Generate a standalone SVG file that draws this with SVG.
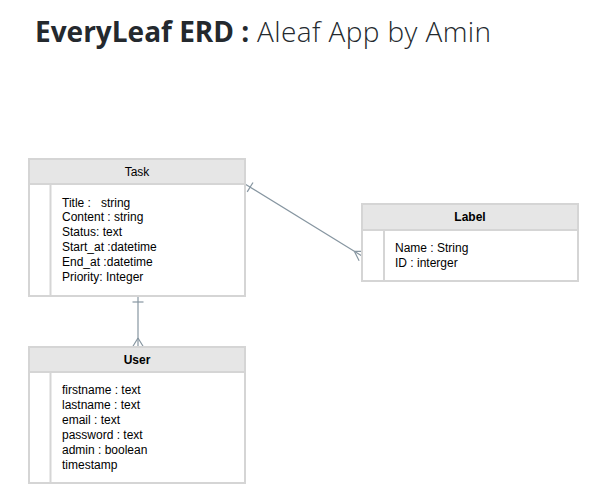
<svg xmlns="http://www.w3.org/2000/svg" width="600" height="504" viewBox="0 0 600 504">
<defs>
<style>
.box{fill:#ffffff;stroke:#d5d5d5;stroke-width:2}
.hdr{fill:#e6e6e6;stroke:#d5d5d5;stroke-width:2}
.div{stroke:#d5d5d5;stroke-width:2;fill:none}
.t{font-family:"Liberation Sans",Arial,Helvetica,sans-serif;font-size:12px;fill:#000000}
.h{font-family:"Liberation Sans",Arial,Helvetica,sans-serif;font-size:12px;fill:#000000;text-anchor:middle}
.hb{font-weight:bold}
.edge{stroke:#8796a1;stroke-width:1.2;fill:none}
.title{font-family:"Open Sans","Noto Sans",sans-serif;font-size:28px;fill:#24292e}
</style>
<marker id="one" markerUnits="userSpaceOnUse" orient="auto" refX="0" refY="0" markerWidth="20" markerHeight="20" overflow="visible">
<path d="M6,-5.5 L6,5.5" stroke="#8796a1" stroke-width="1.2" fill="none"/>
</marker>
<marker id="many" markerUnits="userSpaceOnUse" orient="auto" refX="0" refY="0" markerWidth="20" markerHeight="20" overflow="visible">
<path d="M-9,0 L0,-5.5 M-9,0 L0,5.5" stroke="#8796a1" stroke-width="1.2" fill="none"/>
</marker>
</defs>
<rect width="600" height="504" fill="#ffffff"/>
<text class="title" x="35" y="41.5"><tspan font-weight="700">EveryLeaf ERD :</tspan><tspan font-weight="300" letter-spacing="0.4"> Aleaf App by Amin</tspan></text>

<g id="connectors">
<path class="edge" d="M245,184 L362,256" marker-start="url(#one)" marker-end="url(#many)"/>
<path class="edge" d="M138,296 L138,347" marker-start="url(#one)" marker-end="url(#many)"/>
</g>

<g id="task">
<rect class="box" x="29" y="159" width="216" height="137"/>
<rect class="hdr" x="29" y="159" width="216" height="25"/>
<line class="div" x1="50.5" y1="184" x2="50.5" y2="296"/>
<text class="h" x="137" y="175.5">Task</text>
<text class="t" x="62" y="206.5" xml:space="preserve">Title :   string</text>
<text class="t" x="62" y="221.3">Content : string</text>
<text class="t" x="62" y="236.1">Status: text</text>
<text class="t" x="62" y="250.9">Start_at :datetime</text>
<text class="t" x="62" y="265.7">End_at :datetime</text>
<text class="t" x="62" y="280.5">Priority: Integer</text>
</g>

<g id="label">
<rect class="box" x="362" y="204" width="216" height="77"/>
<rect class="hdr" x="362" y="204" width="216" height="26"/>
<line class="div" x1="384" y1="230" x2="384" y2="281"/>
<text class="h hb" x="470" y="220.5">Label</text>
<text class="t" x="395" y="252">Name : String</text>
<text class="t" x="395" y="266.8">ID : interger</text>
</g>

<g id="user">
<rect class="box" x="29" y="347" width="216" height="136"/>
<rect class="hdr" x="29" y="347" width="216" height="25"/>
<line class="div" x1="50.5" y1="372" x2="50.5" y2="483"/>
<text class="h hb" x="137" y="363.5">User</text>
<text class="t" x="62" y="394">firstname : text</text>
<text class="t" x="62" y="409">lastname : text</text>
<text class="t" x="62" y="424">email : text</text>
<text class="t" x="62" y="439">password : text</text>
<text class="t" x="62" y="454">admin : boolean</text>
<text class="t" x="62" y="469">timestamp</text>
</g>
</svg>
